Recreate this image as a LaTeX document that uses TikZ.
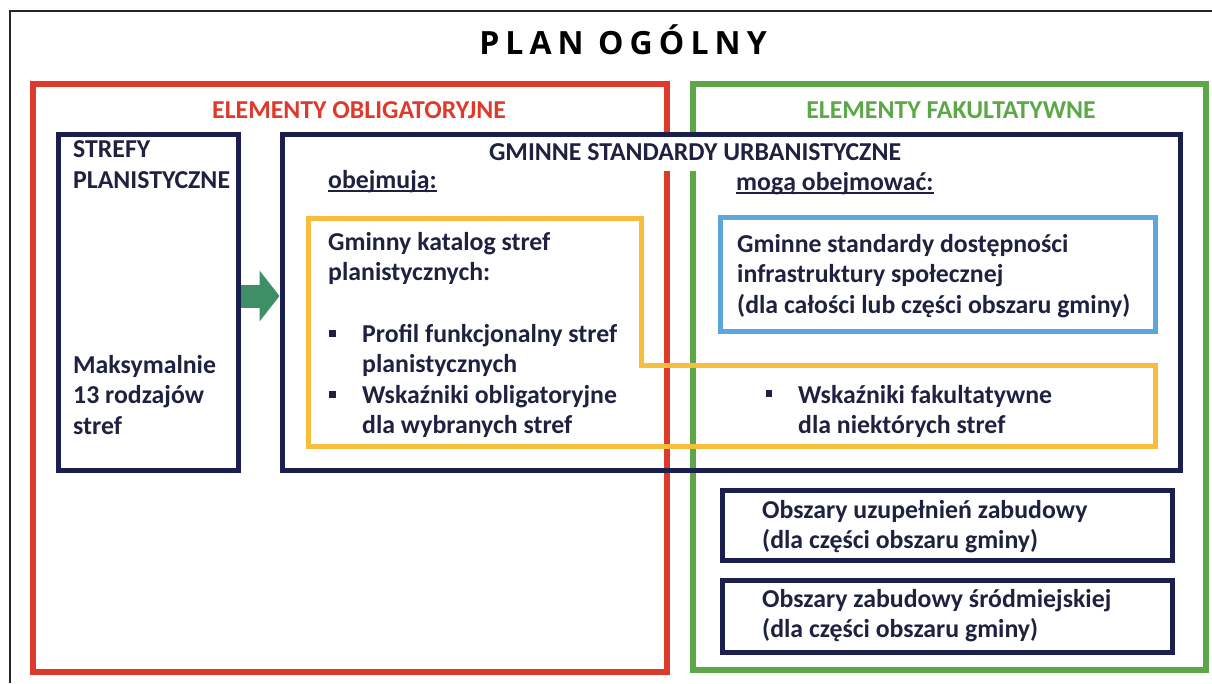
\documentclass[tikz,border=0pt]{standalone}
\usepackage{fontspec}
\setmainfont{Carlito}
\newfontfamily\titlefont[LetterSpace=19]{Open Sans}
\usetikzlibrary{arrows.meta}
\definecolor{obred}{RGB}{222,58,44}
\definecolor{fakgreen}{RGB}{92,168,72}
\definecolor{navy}{RGB}{26,31,78}
\definecolor{navytext}{RGB}{30,34,64}
\definecolor{ybox}{RGB}{246,190,60}
\definecolor{bbox}{RGB}{91,166,219}
\definecolor{arrowgreen}{RGB}{62,143,102}
\tikzset{
  framebox/.style={draw=#1, line width=6pt, inner sep=0pt, outer sep=0pt},
  navybox/.style={draw=navy, line width=5pt, inner sep=0pt},
  txt/.style={inner sep=0pt, anchor=base west, align=left, text=navytext,
    font=\bfseries\fontsize{25.8}{30.5}\selectfont},
  head/.style={inner sep=0pt, anchor=base, font=\bfseries\fontsize{25.8}{30}\selectfont},
  bulletsq/.style={fill=navytext, inner sep=0pt, minimum size=6.5pt},
  uline/.style={navytext, line width=1.5pt}
}
\begin{document}
\begin{tikzpicture}[x=1pt,y=-1pt]
\useasboundingbox (0,0) rectangle (1212,683);
\fill[white] (0,0) rectangle (1212,683);
% outer frame (continues beyond the image)
\draw[black!85, line width=2pt] (10,683) -- (10,11) -- (1212,11);
\node[head, font=\titlefont\bfseries\fontsize{32}{38}\selectfont, text=black] (title) at (623,54) {PLAN OGÓLNY};

% big frames
\node[framebox=obred, minimum width=634pt, minimum height=588pt] (obl) at (350,378) {};
\node[framebox=fakgreen, minimum width=513pt, minimum height=586pt] (fak) at (949.5,377) {};
\node[head, text=obred] (oblt) at (359,118) {ELEMENTY OBLIGATORYJNE};
\node[head, text=fakgreen] (fakt) at (951,118) {ELEMENTY FAKULTATYWNE};

% gminne standardy title (white backing interrupts the red and green lines)
\node[fill=white, inner sep=0pt, minimum width=420pt, minimum height=36pt,
      text=navytext, font=\bfseries\fontsize{25.8}{30}\selectfont] (gst) at (695,152.5) {GMINNE STANDARDY URBANISTYCZNE};

% navy boxes
\node[navybox, minimum width=180pt, minimum height=336pt] (strefy) at (148,302) {};
\node[navybox, minimum width=898pt, minimum height=336pt] (gminne) at (731,302) {};

% arrow
\draw[arrowgreen, line width=23pt, -{Triangle[length=20pt,width=50pt]}]
  ([yshift=6pt]strefy.east) -- ([yshift=6pt]gminne.west);

% strefy texts (base anchor = baseline of the last line)
\node[txt] (st1) at (73,188) {STREFY\\PLANISTYCZNE};
\node[txt] (st2) at (73,434) {Maksymalnie\\13 rodzajów\\stref};

% obejmuja / moga obejmowac
\node[txt] (obj) at (328,188) {obejmują:};
\draw[uline] ([yshift=-3pt]obj.base west) -- ([yshift=-3pt]obj.base east);
\node[txt] (mog) at (736,190) {mogą obejmować:};
\draw[uline] ([yshift=-3pt]mog.base west) -- ([yshift=-3pt]mog.base east);

% yellow polygon
\draw[ybox, line width=5pt, line join=miter]
  (308,218) -- (641,218) -- (641,365) -- (1155,365) -- (1155,446) -- (308,446) -- cycle;
\node[txt] (kat) at (328,280.5) {Gminny katalog stref\\planistycznych:};
\node[bulletsq] (b1) at (332.5,333.5) {};
\node[txt] (prof) at (362,372.5) {Profil funkcjonalny stref\\planistycznych};
\node[bulletsq] (b2) at (332.5,394.5) {};
\node[txt] (wsk) at (362,433.5) {Wskaźniki obligatoryjne\\dla wybranych stref};
\node[bulletsq] (b3) at (769,393.5) {};
\node[txt] (wskf) at (798,433.5) {Wskaźniki fakultatywne\\dla niektórych stref};

% blue box
\node[draw=bbox, line width=5pt, inner sep=0pt, minimum width=435pt, minimum height=114pt] (blue) at (937.5,274) {};
\node[txt] (bt) at (737,313) {Gminne standardy dostępności\\infrastruktury społecznej\\(dla całości lub części obszaru gminy)};

% obszary boxes
\node[navybox, minimum width=450pt, minimum height=70pt] (ob1) at (947,525) {};
\node[txt] (ob1t) at (762,548.5) {Obszary uzupełnień zabudowy\\(dla części obszaru gminy)};
\node[navybox, minimum width=450pt, minimum height=72pt] (ob2) at (947,616) {};
\node[txt] (ob2t) at (762,637.5) {Obszary zabudowy śródmiejskiej\\(dla części obszaru gminy)};
\end{tikzpicture}
\end{document}
